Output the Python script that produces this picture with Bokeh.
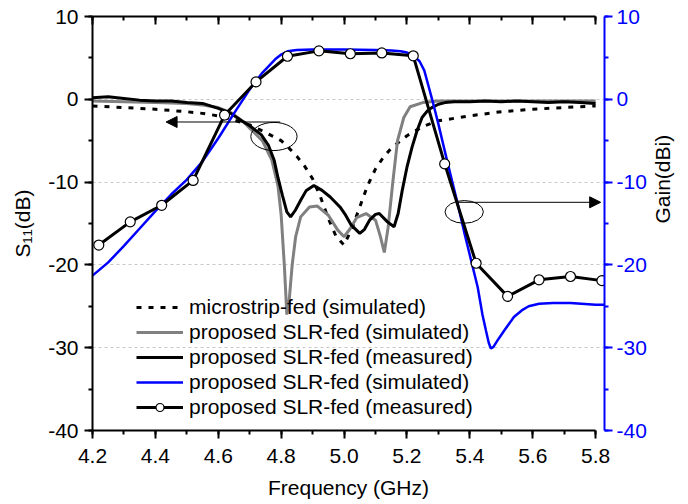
import math
from bokeh.plotting import figure
from bokeh.models import (Range1d, LinearAxis, SingleIntervalTicker, PrintfTickFormatter,
                          Legend, LegendItem, Arrow, NormalHead, Grid)
from bokeh.embed import file_html
from bokeh.resources import INLINE

FONT = "Liberation Sans"

# ---------------- data ----------------
# microstrip-fed (simulated) S11
ms_freq = [4.20, 4.30, 4.40, 4.50, 4.55, 4.60, 4.65, 4.70, 4.75, 4.80, 4.825, 4.85, 4.875,
           4.90, 4.925, 4.95, 4.975, 5.00, 5.025, 5.05, 5.075, 5.10, 5.125, 5.15, 5.20,
           5.25, 5.30, 5.40, 5.50, 5.60, 5.70, 5.80]
ms_s11 = [-0.8, -1.0, -1.2, -1.5, -1.7, -2.0, -2.5, -3.1, -4.0, -5.0, -5.9, -6.9, -8.1,
          -9.6, -11.8, -14.4, -16.6, -17.6, -15.6, -13.0, -10.4, -8.4, -7.0, -5.9, -4.4,
          -3.3, -2.6, -2.0, -1.5, -1.2, -1.0, -0.8]

# proposed SLR-fed (simulated) S11
sim_freq = [4.20, 4.30, 4.40, 4.50, 4.55, 4.60, 4.64, 4.68, 4.70, 4.74, 4.77, 4.79, 4.80,
            4.81, 4.818, 4.825, 4.835, 4.846, 4.862, 4.89, 4.915, 4.95, 4.98, 5.00, 5.02,
            5.04, 5.07, 5.10, 5.115, 5.128, 5.14, 5.155, 5.17, 5.19, 5.21, 5.25, 5.30,
            5.40, 5.50, 5.60, 5.70, 5.80]
sim_s11 = [-0.2, -0.3, -0.4, -0.5, -0.7, -1.0, -1.6, -2.7, -3.5, -5.0, -7.3, -10.5, -14.0,
           -20.0, -26.0, -24.5, -20.0, -16.6, -14.2, -13.0, -12.9, -14.0, -15.8, -16.6, -15.6,
           -14.3, -13.8, -14.6, -16.5, -18.5, -15.5, -10.0, -5.0, -2.2, -0.9, -0.4, -0.2,
           -0.2, -0.2, -0.2, -0.2, -0.2]

# proposed SLR-fed (measured) S11
meas_freq = [4.20, 4.25, 4.30, 4.35, 4.40, 4.45, 4.50, 4.55, 4.60, 4.64, 4.674, 4.70, 4.737,
             4.76, 4.778, 4.79, 4.804, 4.818, 4.83, 4.845, 4.862, 4.88, 4.904, 4.93, 4.956,
             4.987, 5.005, 5.023, 5.05, 5.065, 5.081, 5.10, 5.112, 5.138, 5.159, 5.172,
             5.185, 5.20, 5.216, 5.232, 5.248, 5.265, 5.279, 5.30, 5.321, 5.35, 5.40, 5.45,
             5.50, 5.55, 5.60, 5.65, 5.70, 5.75, 5.80]
meas_s11 = [0.2, 0.3, 0.1, -0.1, -0.2, -0.2, -0.4, -0.5, -1.1, -1.7, -2.6, -3.2, -4.3,
            -5.6, -7.4, -9.5, -11.6, -13.6, -14.2, -13.4, -12.2, -11.0, -10.4, -11.0, -11.8,
            -13.0, -14.0, -15.2, -16.2, -15.7, -14.6, -13.9, -13.8, -14.8, -15.4, -13.8,
            -11.0, -8.2, -5.8, -3.8, -2.2, -1.4, -1.0, -0.6, -0.4, -0.3, -0.3, -0.2,
            -0.3, -0.2, -0.3, -0.4, -0.3, -0.4, -0.5]

# proposed SLR-fed (simulated) gain
gsim_freq = [4.20, 4.25, 4.30, 4.35, 4.40, 4.45, 4.50, 4.55, 4.60, 4.65, 4.70, 4.74, 4.78,
             4.80, 4.82, 4.85, 4.90, 5.00, 5.10, 5.15, 5.18, 5.20, 5.22, 5.24, 5.255, 5.27,
             5.28, 5.30, 5.33, 5.36, 5.383, 5.405, 5.425, 5.44, 5.451, 5.46, 5.467, 5.475,
             5.49, 5.51, 5.54, 5.565, 5.587, 5.62, 5.665, 5.72, 5.80, 5.83]
gsim_gain = [-21.3, -19.7, -17.7, -15.6, -13.5, -11.5, -9.7, -7.5, -4.7, -1.7, 1.2, 3.2, 4.8,
             5.4, 5.8, 5.95, 6.0, 6.0, 5.95, 5.9, 5.8, 5.65, 5.3, 4.6, 3.5, 1.4,
             0.0, -3.0, -7.8, -12.4, -16.2, -19.6, -22.7, -26.0, -27.9, -29.4, -30.1, -29.9,
             -29.0, -27.9, -26.3, -25.5, -25.0, -24.7, -24.6, -24.6, -24.8, -24.8]

# proposed SLR-fed (measured) gain
gmeas_freq = [4.22, 4.32, 4.42, 4.52, 4.62, 4.72, 4.82, 4.92, 5.02, 5.12, 5.22, 5.32, 5.42,
              5.52, 5.62, 5.72, 5.82]
gmeas_gain = [-17.6, -14.8, -12.8, -9.8, -1.9, 2.1, 5.2, 5.85, 5.5, 5.6, 5.25, -7.8, -19.8,
              -23.8, -21.8, -21.4, -21.9]

# ---------------- figure ----------------
p = figure(width=688, height=504, output_backend="svg", toolbar_location=None,
           x_range=Range1d(4.2, 5.8282), y_range=Range1d(-40, 10),
           x_axis_location=None, y_axis_location=None,
           min_border_left=92, min_border_right=76, min_border_top=16, min_border_bottom=74)
p.extra_y_ranges = {"gain": Range1d(-40, 10)}
p.outline_line_color = None
p.background_fill_color = "white"
p.border_fill_color = "white"
p.xgrid.visible = False
p.ygrid.visible = False

AX_W = 2
TICK_FS = "21px"
TITLE_FS = "21px"

xticker = SingleIntervalTicker(interval=0.2, num_minor_ticks=2)
yticker = SingleIntervalTicker(interval=10, num_minor_ticks=2)

xb = LinearAxis(ticker=xticker, formatter=PrintfTickFormatter(format="%.1f"),
                bounds=(4.1999, 5.8001),
                axis_line_width=AX_W, major_tick_line_width=AX_W, minor_tick_line_width=AX_W,
                major_tick_out=8, major_tick_in=0, minor_tick_out=4, minor_tick_in=0,
                major_label_standoff=10, major_label_text_font=FONT,
                major_label_text_font_size=TICK_FS, major_label_text_color="black",
                axis_label="Frequency (GHz)", axis_label_standoff=10,
                axis_label_text_font=FONT, axis_label_text_font_size=TITLE_FS,
                axis_label_text_font_style="normal", axis_label_text_color="black")
p.add_layout(xb, "below")

xtop = LinearAxis(ticker=xticker, bounds=(4.1999, 5.8001),
                  axis_line_width=AX_W, major_tick_line_width=AX_W, minor_tick_line_width=AX_W,
                  major_tick_out=0, major_tick_in=8, minor_tick_out=0, minor_tick_in=4,
                  major_label_standoff=0, major_label_text_font_size="0px",
                  major_label_text_color=None)
p.add_layout(xtop, "above")

yl = LinearAxis(ticker=yticker, formatter=PrintfTickFormatter(format="%d"),
                axis_line_width=AX_W, major_tick_line_width=AX_W, minor_tick_line_width=AX_W,
                major_tick_out=8, major_tick_in=0, minor_tick_out=4, minor_tick_in=0,
                major_label_standoff=6, major_label_text_font=FONT,
                major_label_text_font_size=TICK_FS, major_label_text_color="black",
                axis_label="S\u2081\u2081(dB)", axis_label_standoff=11,
                axis_label_text_font=FONT, axis_label_text_font_size=TITLE_FS,
                axis_label_text_font_style="normal", axis_label_text_color="black")
p.add_layout(yl, "left")

BLUE = "#0000ff"
yr = LinearAxis(y_range_name="gain",
                ticker=SingleIntervalTicker(interval=10, num_minor_ticks=2),
                formatter=PrintfTickFormatter(format="%d"),
                axis_line_width=AX_W, major_tick_line_width=AX_W, minor_tick_line_width=AX_W,
                axis_line_color=BLUE, major_tick_line_color=BLUE, minor_tick_line_color=BLUE,
                major_tick_out=8, major_tick_in=0, minor_tick_out=4, minor_tick_in=0,
                major_label_standoff=4, major_label_text_font=FONT,
                major_label_text_font_size=TICK_FS, major_label_text_color=BLUE,
                axis_label="Gain(dBi)", axis_label_standoff=13,
                axis_label_text_font=FONT, axis_label_text_font_size=TITLE_FS,
                axis_label_text_font_style="normal", axis_label_text_color="black")
if "axis_label_orientation" in LinearAxis.properties():
    yr.axis_label_orientation = math.pi / 2
p.add_layout(yr, "right")

grid = Grid(dimension=1, ticker=yticker, grid_line_color="#c8c8c8",
            grid_line_dash="3 3", grid_line_width=1)
p.add_layout(grid)

# ---------------- curves ----------------
r_ms = p.line(ms_freq, ms_s11, line_color="black", line_width=3, line_dash="5 7")
r_sim = p.line(sim_freq, sim_s11, line_color="#808080", line_width=3)
r_meas = p.line(meas_freq, meas_s11, line_color="black", line_width=3)
r_gsim = p.line(gsim_freq, gsim_gain, line_color=BLUE, line_width=2.5, y_range_name="gain")
r_gmeas = p.line(gmeas_freq, gmeas_gain, line_color="black", line_width=3, y_range_name="gain")
r_gmeas_pts = p.scatter(gmeas_freq, gmeas_gain, marker="circle", size=10, fill_color="white",
                        line_color="black", line_width=1.2, y_range_name="gain")

# ---------------- annotations (ellipses + arrows) ----------------
p.ellipse(x=[4.777], y=[-4.49], width=[0.147], height=[3.4],
          fill_color=None, line_color="black", line_width=1)
p.ellipse(x=[5.382], y=[-13.6], width=[0.122], height=[2.74],
          fill_color=None, line_color="black", line_width=1)
p.add_layout(Arrow(end=NormalHead(size=11, fill_color="black", line_color="black", line_width=1),
                   x_start=4.797, y_start=-2.74, x_end=4.434, y_end=-2.74,
                   line_color="black", line_width=1))
p.add_layout(Arrow(end=NormalHead(size=11, fill_color="black", line_color="black", line_width=1),
                   x_start=5.362, y_start=-12.44, x_end=5.816, y_end=-12.44,
                   line_color="black", line_width=1))

# ---------------- legend ----------------
legend = Legend(items=[
    LegendItem(label="microstrip-fed (simulated)", renderers=[r_ms]),
    LegendItem(label="proposed SLR-fed (simulated)", renderers=[r_sim]),
    LegendItem(label="proposed SLR-fed (measured)", renderers=[r_meas]),
    LegendItem(label="proposed SLR-fed (simulated)", renderers=[r_gsim]),
    LegendItem(label="proposed SLR-fed (measured)", renderers=[r_gmeas, r_gmeas_pts]),
], location=(44, 11), orientation="vertical",
    border_line_color=None, background_fill_alpha=0, padding=0, margin=0,
    spacing=1, glyph_width=47, glyph_height=20, label_height=20, label_standoff=6,
    label_text_font=FONT, label_text_font_size="21px", label_text_color="black")
p.add_layout(legend)

open("out.html", "w").write(file_html(p, INLINE))
